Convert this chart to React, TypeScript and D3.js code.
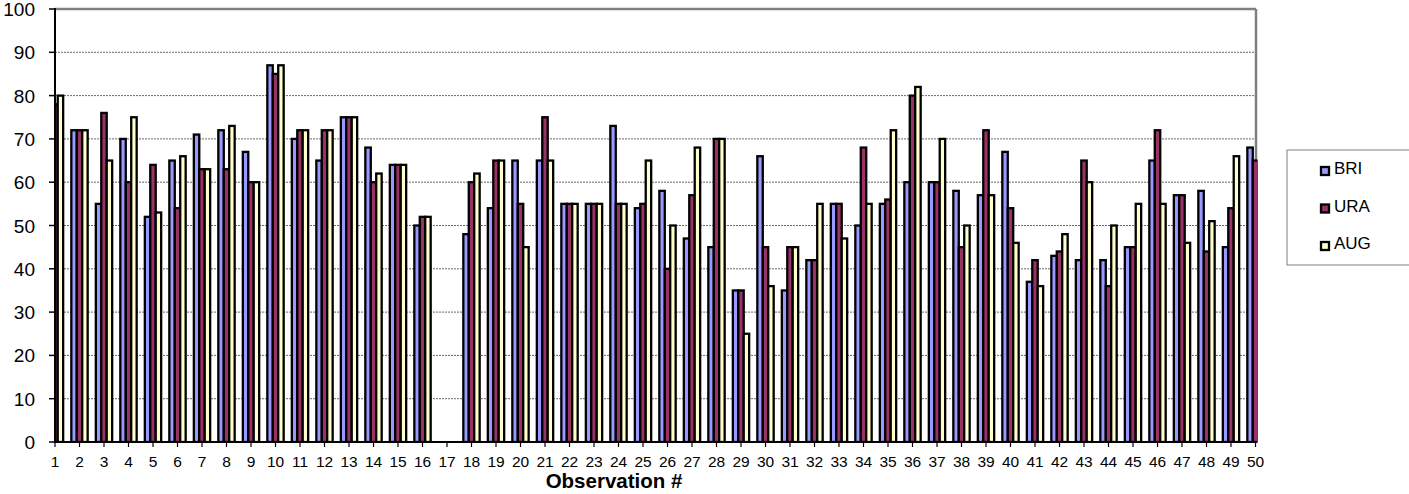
import React from "react";
import * as d3 from "d3";

const categories: string[] = Array.from({ length: 50 }, (_, i) => String(i + 1));
const seriesNames = ["BRI", "URA", "AUG"];
const seriesColors = ["#9999FF", "#993366", "#FFFFCC"];

const BRI: (number | null)[] = [
  78, 72, 55, 70, 52, 65, 71, 72, 67, 87,
  70, 65, 75, 68, 64, 50, null, 48, 54, 65,
  65, 55, 55, 73, 54, 58, 47, 45, 35, 66,
  35, 42, 55, 50, 55, 60, 60, 58, 57, 67,
  37, 43, 42, 42, 45, 65, 57, 58, 45, 68,
];
const URA: (number | null)[] = [
  78, 72, 76, 60, 64, 54, 63, 63, 60, 85,
  72, 72, 75, 60, 64, 52, null, 60, 65, 55,
  75, 55, 55, 55, 55, 40, 57, 70, 35, 45,
  45, 42, 55, 68, 56, 80, 60, 45, 72, 54,
  42, 44, 65, 36, 45, 72, 57, 44, 54, 65,
];
const AUG: (number | null)[] = [
  80, 72, 65, 75, 53, 66, 63, 73, 60, 87,
  72, 72, 75, 62, 64, 52, null, 62, 65, 45,
  65, 55, 55, 55, 65, 50, 68, 70, 25, 36,
  45, 55, 47, 55, 72, 82, 70, 50, 57, 46,
  36, 48, 60, 50, 55, 55, 46, 51, 66, null,
];
const yTicks = [0, 10, 20, 30, 40, 50, 60, 70, 80, 90, 100];

const W = 1409;
const H = 494;
const left = 55;
const right = 1255.5;
const top = 9;
const bottom = 442;
const font = "'Liberation Sans', Arial, sans-serif";

export default function App() {
  const series = [BRI, URA, AUG];
  const x = d3.scalePoint<string>().domain(categories).range([left, right]);
  const y = d3.scaleLinear().domain([0, 100]).range([bottom, top]);
  const step = x.step();
  const bw = step / 4.5;

  return (
    <svg
      width={W}
      height={H}
      style={{ position: "absolute", left: 0, top: 0, display: "block", background: "#fff" }}
    >
      <defs>
        <clipPath id="plotclip">
          <rect x={left} y={0} width={1257.5 - left} height={bottom + 1} />
        </clipPath>
      </defs>
      {yTicks.filter((t) => t > 0 && t < 100).map((t) => (
        <line
          key={"g" + t}
          x1={left}
          x2={right}
          y1={y(t)}
          y2={y(t)}
          stroke="#444"
          strokeWidth={0.8}
          strokeDasharray="2,1"
        />
      ))}
      <line x1={left} x2={right + 0.5} y1={top} y2={top} stroke="#808080" strokeWidth={2.5} />
      <line x1={right + 0.5} x2={right + 0.5} y1={top} y2={bottom} stroke="#808080" strokeWidth={2.5} />
      <g clipPath="url(#plotclip)">
        {categories.map((c, i) =>
          series.map((s, k) => {
            const v = s[i];
            if (v == null) return null;
            const cx = x(c)!;
            const x0 = cx - 1.5 * bw + k * bw;
            return (
              <rect
                key={c + "-" + k}
                x={x0}
                y={y(v)}
                width={bw}
                height={bottom - y(v)}
                fill={seriesColors[k]}
                stroke="#000"
                strokeWidth={2.3}
              />
            );
          })
        )}
      </g>
      <line x1={left} x2={left} y1={top - 1} y2={bottom + 1} stroke="#000" strokeWidth={2} />
      <line x1={left - 1} x2={right} y1={bottom} y2={bottom} stroke="#000" strokeWidth={2} />
      {yTicks.map((t) => (
        <g key={"yt" + t}>
          <line x1={left - 6} x2={left} y1={y(t)} y2={y(t)} stroke="#000" strokeWidth={1.5} />
          <text
            x={35}
            y={y(t) + 7}
            textAnchor="end"
            fontFamily={font}
            fontSize={19}
            fill="#000"
          >
            {t}
          </text>
        </g>
      ))}
      {categories.map((c) => (
        <g key={"xt" + c}>
          <line x1={x(c)!} x2={x(c)!} y1={bottom} y2={bottom + 5} stroke="#000" strokeWidth={1.2} />
          <text
            x={x(c)!}
            y={467}
            textAnchor="middle"
            fontFamily={font}
            fontSize={15.5}
            fill="#000"
          >
            {c}
          </text>
        </g>
      ))}
      <text
        x={614}
        y={488}
        textAnchor="middle"
        fontFamily={font}
        fontSize={20.5}
        fontWeight="bold"
        fill="#000"
      >
        Observation #
      </text>
      <rect x={1287} y={150} width={140} height={115} fill="#fff" stroke="#808080" strokeWidth={1} />
      {seriesNames.map((n, k) => {
        const cy = 171 + k * 37.5;
        return (
          <g key={"lg" + n}>
            <rect
              x={1321}
              y={cy - 4}
              width={8}
              height={8}
              fill={seriesColors[k]}
              stroke="#000"
              strokeWidth={2.3}
            />
            <text x={1334} y={cy + 3} fontFamily={font} fontSize={17} fill="#000">
              {n}
            </text>
          </g>
        );
      })}
    </svg>
  );
}
